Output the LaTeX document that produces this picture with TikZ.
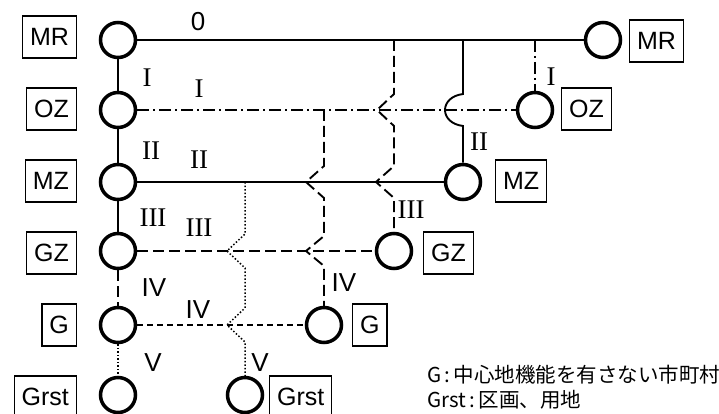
\documentclass[tikz,border=0pt]{standalone}
\usepackage{fontspec}
\setmainfont{Liberation Serif}
\setsansfont{Liberation Sans}
\newfontfamily\jpfont{Noto Sans CJK JP}
\usepackage{tikz}

\begin{document}
\begin{tikzpicture}[x=1pt, y=-1pt,
      place/.style={draw, circle, line width=3.5pt, minimum size=35pt, inner sep=0pt},
      tag/.style={draw, line width=1.2pt, minimum height=42pt, inner xsep=7.5pt,
                  font=\sffamily\fontsize{25}{30}\selectfont},
      rom/.style={font=\rmfamily\fontsize{27}{30}\selectfont, inner sep=0pt},
      num/.style={font=\sffamily\fontsize{26}{30}\selectfont, inner sep=0pt},
      lnk/.style={line width=1.9pt},
      dashdot/.style={lnk, dash pattern=on 12pt off 4pt on 2pt off 4pt},
      longdash/.style={lnk, dash pattern=on 11pt off 5pt},
      shortdash/.style={lnk, dash pattern=on 6pt off 4pt},
      dots/.style={line width=1.5pt, dash pattern=on 1.5pt off 2pt},
      legend/.style={anchor=west, inner sep=0pt, font=\jpfont\fontsize{20.5}{24}\selectfont}
    ]
      \useasboundingbox (0,0) rectangle (719,414);
      % left column
      \node[place] (mrL) at (118,40) {};
      \node[place] (ozL) at (118,110) {};
      \node[place] (mzL) at (118,182) {};
      \node[place] (gzL) at (118,251) {};
      \node[place] (gL) at (118,325) {};
      \node[place] (grL) at (118,395) {};
      \node[tag, anchor=east] (mrLt) at (77,37) {MR};
      \node[tag, anchor=east] (ozLt) at (77,109) {OZ};
      \node[tag, anchor=east] (mzLt) at (77,181) {MZ};
      \node[tag, anchor=east] (gzLt) at (77,253) {GZ};
      \node[tag, anchor=east] (gLt) at (77,325) {G};
      \node[tag, anchor=east] (grLt) at (77,397) {Grst};
      % right ends
      \node[place] (mrR) at (603,40) {};
      \node[place] (ozR) at (535,110) {};
      \node[place] (mzR) at (463,182) {};
      \node[place] (gzR) at (394,251) {};
      \node[place] (gR) at (324,325) {};
      \node[place] (grR) at (245,395) {};
      \node[tag, anchor=west] (mrRt) at (629,41) {MR};
      \node[tag, anchor=west] (ozRt) at (561,109) {OZ};
      \node[tag, anchor=west] (mzRt) at (495,181) {MZ};
      \node[tag, anchor=west] (gzRt) at (423,253) {GZ};
      \node[tag, anchor=west] (gRt) at (352,325) {G};
      \node[tag, anchor=west] (grRt) at (269,397) {Grst};
      % vertical chain
      \draw[lnk] (mrL) -- (ozL);
      \draw[lnk] (ozL) -- (mzL);
      \draw[lnk] (mzL) -- (gzL);
      \draw[longdash] (gzL) -- (gL);
      \draw[dots] (gL) -- (grL);
      % horizontal links
      \draw[lnk] (mrL) -- (mrR);
      \draw[dashdot] (ozL) -- (ozR);
      \draw[lnk] (mzL) -- (mzR);
      \draw[longdash] (gzL) -- (gzR);
      \draw[shortdash] (gL) -- (gR);
      % drops with hops over crossings
      \coordinate (dI) at (535,40);
      \coordinate (dII) at (463,40);
      \coordinate (dIII) at (394,40);
      \coordinate (dIV) at (324,110);
      \coordinate (dV) at (245,182);
      \draw[dashdot] (dI) -- (ozR);
      \draw[lnk] (dII) -- ++(0,54) .. controls +(-24,3) and +(-24,-3) .. ++(0,32) -- (mzR);
      \draw[longdash] (dIII) -- ++(0,54) -- ++(-17,16) -- ++(17,16) -- ++(0,40)
        -- ++(-18,16) -- ++(18,16) -- (gzR);
      \draw[longdash] (dIV) -- ++(0,56) -- ++(-18,16) -- ++(18,16) -- ++(0,38)
        -- ++(-18,15) -- ++(18,15) -- (gR);
      \draw[dots] (dV) -- ++(0,52) -- ++(-18,17) -- ++(18,17) -- ++(0,40)
        -- ++(-18,17) -- ++(18,17) -- (grR);
      % level labels
      \node[num] (l0) at (198,22) {0};
      \node[rom] (lIa) at (147,78) {I};
      \node[rom] (lIb) at (199,89) {I};
      \node[rom] (lIc) at (551,77) {I};
      \node[rom] (lIIa) at (151,151) {II};
      \node[rom] (lIIb) at (199,160) {II};
      \node[rom] (lIIc) at (479,142) {II};
      \node[rom] (lIIIa) at (153,218) {III};
      \node[rom] (lIIIb) at (199,228) {III};
      \node[rom] (lIIIc) at (411,210) {III};
      \node[num] (lIVa) at (154,288) {IV};
      \node[num] (lIVb) at (198,310) {IV};
      \node[num] (lIVc) at (344,283) {IV};
      \node[num] (lVa) at (153,363) {V};
      \node[num] (lVb) at (260,363) {V};
      % legend
      \node[legend] (key1) at (427,375) {G\,:\,中心地機能を有さない市町村};
      \node[legend] (key2) at (427,400) {Grst\,:\,区画、用地};
    \end{tikzpicture}
\end{document}
